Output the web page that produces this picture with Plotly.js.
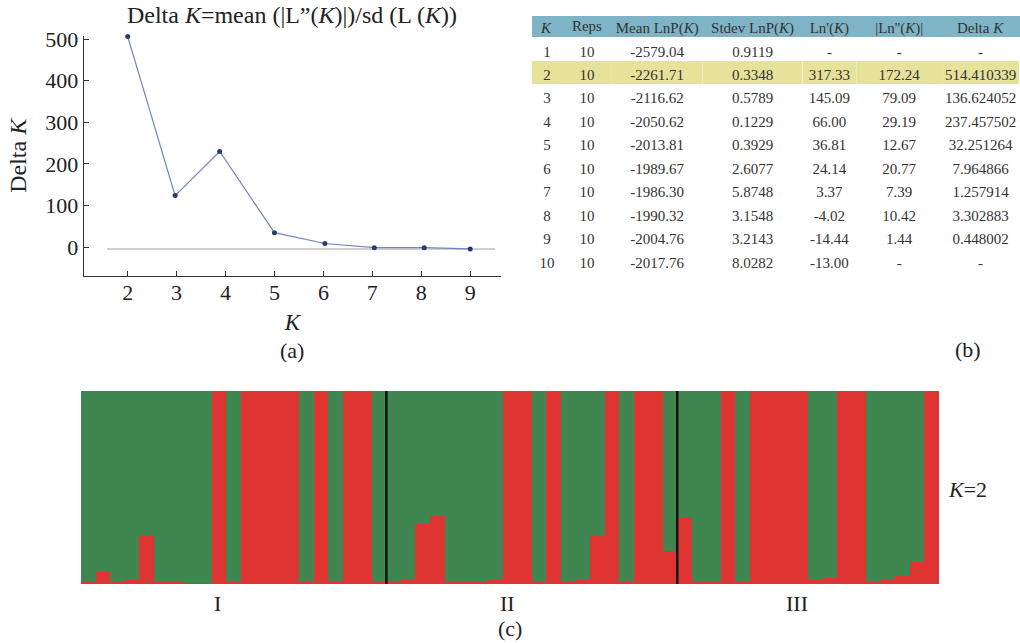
<!DOCTYPE html>
<html><head><meta charset="utf-8">
<script src="https://cdn.plot.ly/plotly-3.0.1.min.js"></script>
<style>html,body{margin:0;padding:0;background:#fff}#chart{width:1020px;height:643px}</style>
</head><body><div id="chart"></div>
<script>
const W = 1020, H = 643;
const px = v => v / W;
const py = v => 1 - v / H;
const FONT = 'Liberation Serif, Times New Roman, serif';
const NB = '\u00a0';

// ---------- Panel (a): Delta K ----------
const kPos = [2, 2.97, 3.88, 5, 6.03, 7.04, 8.06, 9];
const deltaKPlot = [506, 124, 230, 35, 9, -1, -1, -4];
const kTicks = [2, 3, 4, 5, 6, 7, 8, 9];
const yTicks = [0, 100, 200, 300, 400, 500];

// ---------- Panel (b): table ----------
const tblHeader = ['<i>K</i>', 'Reps', 'Mean LnP(<i>K</i>)', 'Stdev LnP(<i>K</i>)', "Ln'(<i>K</i>)", "|Ln''(<i>K</i>)|", 'Delta <i>K</i>'];
const tblK = [1, 2, 3, 4, 5, 6, 7, 8, 9, 10];
const tblReps = [10, 10, 10, 10, 10, 10, 10, 10, 10, 10];
const tblMean = [-2579.04, -2261.71, -2116.62, -2050.62, -2013.81, -1989.67, -1986.30, -1990.32, -2004.76, -2017.76];
const tblStdev = [0.9119, 0.3348, 0.5789, 0.1229, 0.3929, 2.6077, 5.8748, 3.1548, 3.2143, 8.0282];
const tblLn1 = [null, 317.33, 145.09, 66.00, 36.81, 24.14, 3.37, -4.02, -14.44, -13.00];
const tblLn2 = [null, 172.24, 79.09, 29.19, 12.67, 20.77, 7.39, 10.42, 1.44, null];
const tblDelta = [null, 514.410339, 136.624052, 237.457502, 32.251264, 7.964866, 1.257914, 3.302883, 0.448002, null];
const highlightK = 2;

// ---------- Panel (c): STRUCTURE K=2 ----------
const popNames = ['I', 'II', 'III'];
const popSizes = [21, 20, 18];
const redQ = [
  // I
  0.01, 0.06, 0.01, 0.02, 0.25, 0.01, 0.01, 0.005, 0.005, 1, 0.01, 1, 1, 1, 1, 0.01, 1, 0.01, 1, 1, 0.01,
  // II
  0.01, 0.02, 0.31, 0.35, 0.01, 0.01, 0.01, 0.02, 1, 1, 0.01, 1, 0.01, 0.02, 0.25, 1, 0.01, 1, 1, 0.17,
  // III
  0.34, 0.01, 0.01, 1, 0.01, 1, 1, 1, 1, 0.02, 0.03, 1, 1, 0.01, 0.02, 0.04, 0.115, 1
];
const greenQ = redQ.map(v => 1 - v);
const indiv = redQ.map((_, i) => i);

const fmt = (arr, d) => arr.map(v => v === null ? '-' : v.toFixed(d));
const fillCol = tblK.map(k => k === highlightK ? '#e6e29a' : '#ffffff');
const colW = [30, 50, 91, 100, 54, 86, 77];
const tblFont = {family: FONT, size: 15, color: '#333'};
const noLine = {width: 0, color: 'rgba(0,0,0,0)'};
const clear = {color: 'rgba(0,0,0,0)'};

const traces = [
  {
    type: 'scatter', mode: 'lines+markers', x: kPos, y: deltaKPlot, xaxis: 'x', yaxis: 'y', cliponaxis: false,
    line: {color: '#7585bd', width: 1.2}, marker: {color: '#2b3a6b', size: 5}, showlegend: false, hoverinfo: 'skip'
  },
  // body of the table
  {
    type: 'table', domain: {x: [px(532), 1], y: [py(300), py(36.3)]},
    columnwidth: colW,
    header: {values: tblHeader.map(() => ' '), height: 1, line: noLine, fill: clear, font: {family: FONT, size: 1, color: 'rgba(0,0,0,0)'}},
    cells: {
      values: [tblK.map(String), tblReps.map(String), fmt(tblMean, 2), fmt(tblStdev, 4), fmt(tblLn1, 2), fmt(tblLn2, 2), fmt(tblDelta, 6)],
      align: 'center', height: 23.44,
      fill: {color: [fillCol, fillCol, fillCol, fillCol, fillCol, fillCol, fillCol]},
      line: noLine, font: tblFont
    }
  },
  // header row of the table
  {
    type: 'table', domain: {x: [px(532), 1], y: [py(60), py(12)]},
    columnwidth: colW,
    header: {
      values: tblHeader.map(s => s.replace(/ (?![^<]*>)/g, NB)), align: 'center', height: 23,
      fill: clear, line: noLine, font: tblFont
    },
    cells: {values: tblHeader.map(() => [' ']), height: 1, line: noLine, fill: clear, font: {family: FONT, size: 1, color: 'rgba(0,0,0,0)'}}
  },
  {
    type: 'bar', x: indiv, y: redQ, xaxis: 'x2', yaxis: 'y2', marker: {color: '#de3533', line: {width: 0}},
    showlegend: false, hoverinfo: 'skip'
  },
  {
    type: 'bar', x: indiv, y: greenQ, xaxis: 'x2', yaxis: 'y2', marker: {color: '#3f854f', line: {width: 0}},
    showlegend: false, hoverinfo: 'skip'
  }
];

const shapes = [
  // table header band
  {type: 'rect', xref: 'paper', yref: 'paper', x0: px(532), x1: 1, y0: py(37), y1: py(16), fillcolor: '#7fb4c6', line: {width: 0}, layer: 'below'},
  // reference line in panel (a)
  {type: 'line', xref: 'x', yref: 'y', x0: 1.58, x1: 9.51, y0: -4, y1: -4, line: {color: '#d0d0d0', width: 2}, layer: 'below'}
];
let cum = 0;
for (let i = 0; i < popSizes.length - 1; i++) {
  cum += popSizes[i];
  shapes.push({type: 'line', xref: 'x2', yref: 'y2', x0: cum - 0.5, x1: cum - 0.5, y0: 0, y1: 1, line: {color: '#111', width: 2.5}});
}

const annFont = {family: FONT, size: 22, color: '#222'};
const popLabelX = [217, 507, 797];
const mk = (text, x, y) => ({text, x: px(x), y: py(y), xref: 'paper', yref: 'paper', xanchor: 'center', yanchor: 'middle', showarrow: false, font: annFont});
const annotations = [
  mk('(a)', 292, 350), mk('(b)', 968, 349), mk('(c)', 510, 628), mk('<i>K</i>=2', 967, 489)
].concat(popNames.map((n, i) => mk(n, popLabelX[i], 603)));

const layout = {
  width: W, height: H, margin: {l: 0, r: 0, t: 0, b: 0},
  paper_bgcolor: '#fff', plot_bgcolor: 'rgba(0,0,0,0)',
  showlegend: false, barmode: 'stack', bargap: 0,
  title: {
    text: 'Delta <i>K</i>=mean (|L”(<i>K</i>)|)/sd (L (<i>K</i>))',
    x: px(292), xref: 'paper', xanchor: 'center', y: py(15), yref: 'paper', yanchor: 'middle',
    font: {family: FONT, size: 24, color: '#222'}
  },
  xaxis: {
    domain: [px(84), px(501)], range: [1.107, 9.63], tickvals: kTicks, ticktext: kTicks.map(String),
    ticks: 'inside', ticklen: 5, tickcolor: '#333', showline: true, linecolor: '#333', linewidth: 1.3,
    showgrid: false, zeroline: false, tickfont: {family: FONT, size: 22, color: '#222'}, ticklabelstandoff: -4,
    title: {text: '<i>K</i>', font: {family: FONT, size: 23, color: '#222'}, standoff: 10},
    anchor: 'y', automargin: false
  },
  yaxis: {
    domain: [py(276), py(35.7)], range: [-69, 508], tickvals: yTicks, ticktext: yTicks.map(String),
    ticks: 'inside', ticklen: 5, tickcolor: '#333', showline: true, linecolor: '#333', linewidth: 1.3,
    showgrid: false, zeroline: false, tickfont: {family: FONT, size: 22, color: '#222'},
    title: {text: 'Delta <i>K</i>', font: {family: FONT, size: 24, color: '#222'}, standoff: 12},
    anchor: 'x', automargin: false
  },
  xaxis2: {
    domain: [px(81), px(939)], range: [-0.5, redQ.length - 0.5], anchor: 'y2',
    showticklabels: false, ticks: '', showline: false, showgrid: false, zeroline: false
  },
  yaxis2: {
    domain: [py(584), py(391)], range: [0, 1], anchor: 'x2',
    showticklabels: false, ticks: '', showline: false, showgrid: false, zeroline: false
  },
  shapes: shapes,
  annotations: annotations
};

Plotly.newPlot('chart', traces, layout, {displayModeBar: false, staticPlot: true});
</script>
</body></html>
